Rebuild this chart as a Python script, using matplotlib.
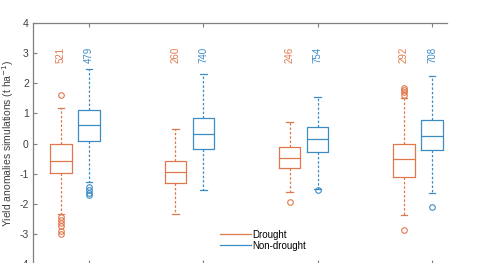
import matplotlib
matplotlib.use('Agg')
import matplotlib.pyplot as plt

ORANGE = '#E0784E'
BLUE = '#3D8CC6'
GREY = '#7F7F7F'

groups = [1, 2, 3, 4]
counts_drought = [521, 260, 246, 292]
counts_nondrought = [479, 740, 754, 708]

# drought boxes
d_med = [-0.57, -0.95, -0.49, -0.52]
d_q1 = [-0.98, -1.32, -0.82, -1.11]
d_q3 = [-0.03, -0.59, -0.12, -0.01]
d_lo = [-2.33, -2.35, -1.62, -2.36]
d_hi = [1.18, 0.49, 0.70, 1.50]
d_fliers = [[1.62, -2.45, -2.55, -2.65, -2.75, -2.9, -3.0],
            [],
            [-1.93],
            [1.62, 1.7, 1.78, 1.85, -2.87]]

# non-drought boxes
n_med = [0.60, 0.31, 0.14, 0.26]
n_q1 = [0.10, -0.18, -0.27, -0.23]
n_q3 = [1.10, 0.84, 0.54, 0.79]
n_lo = [-1.28, -1.53, -1.50, -1.64]
n_hi = [2.46, 2.32, 1.55, 2.24]
n_fliers = [[-1.45, -1.55, -1.65, -1.72],
            [],
            [-1.55],
            [-2.09]]


def stats(med, q1, q3, lo, hi, fl):
    return [dict(med=m, q1=a, q3=b, whislo=l, whishi=h, fliers=f)
            for m, a, b, l, h, f in zip(med, q1, q3, lo, hi, fl)]


plt.rcParams['font.family'] = ['Liberation Sans', 'DejaVu Sans']
plt.rcParams['axes.unicode_minus'] = False
fig = plt.figure(figsize=(4.78, 2.63), dpi=100)
ax = fig.add_axes([0.069, -0.004, 0.866, 0.9165])

OFF = 0.245
for st, pos, col in [(stats(d_med, d_q1, d_q3, d_lo, d_hi, d_fliers),
                      [g - OFF for g in groups], ORANGE),
                     (stats(n_med, n_q1, n_q3, n_lo, n_hi, n_fliers),
                      groups, BLUE)]:
    ax.bxp(st, positions=pos, widths=0.185, capwidths=0.06,
           boxprops=dict(color=col, lw=0.9),
           medianprops=dict(color=col, lw=0.9),
           whiskerprops=dict(color=col, lw=0.9, ls=(0, (2, 1.5))),
           capprops=dict(color=col, lw=0.9),
           flierprops=dict(marker='o', mfc='none', mec=col, ms=4, mew=0.8))

for g, cd, cn in zip(groups, counts_drought, counts_nondrought):
    ax.text(g - OFF, 2.95, str(cd), rotation=90, ha='center', va='center',
            fontsize=7, color=ORANGE)
    ax.text(g, 2.95, str(cn), rotation=90, ha='center', va='center',
            fontsize=7, color=BLUE)

ax.plot([], [], color=ORANGE, lw=0.9, label='Drought')
ax.plot([], [], color=BLUE, lw=0.9, label='Non-drought')
ax.legend(loc='lower center', bbox_to_anchor=(0.556, 0.035), frameon=False,
          fontsize=7, handlelength=3.2, handletextpad=0.1, labelspacing=0.1,
          borderpad=0)

ax.set_xlim(0.51, 4.13)
ax.set_ylim(-4, 4)
ax.set_xticks(groups)
ax.set_xticklabels([])
ax.set_yticks(range(-4, 5))
ax.tick_params(direction='in', length=3, color=GREY, labelcolor='#404040',
               labelsize=7.5, top=True, bottom=True, pad=3)
ax.spines['right'].set_visible(False)
for s in ['top', 'left', 'bottom']:
    ax.spines[s].set_color(GREY)
    ax.spines[s].set_linewidth(0.9)
ax.set_ylabel('Yield anomalies simulations (t ha$^{-1}$)', fontsize=7.5,
              color='#404040')
ax.yaxis.set_label_coords(-0.04, 0.5)

fig.savefig('out.png', dpi=100)
